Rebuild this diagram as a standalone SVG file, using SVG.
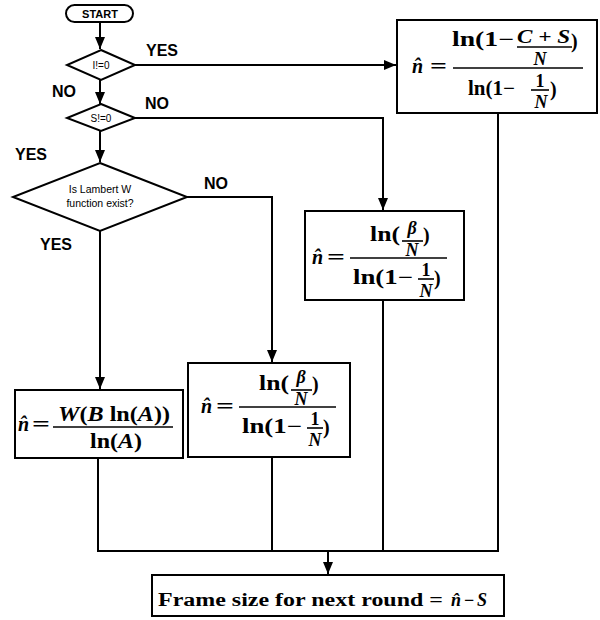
<svg xmlns="http://www.w3.org/2000/svg" width="600" height="620" viewBox="0 0 600 620">
<style>
.sh{fill:#fff;stroke:#000;stroke-width:2}
.ln{fill:none;stroke:#000;stroke-width:2}
.lbl{font-family:"Liberation Sans",Arial,sans-serif;font-weight:bold;font-size:16px;fill:#000}
.dt{font-family:"Liberation Sans",Arial,sans-serif;font-size:10px;fill:#000;text-anchor:middle}
.m{font-family:"Liberation Serif","Times New Roman",serif;font-weight:bold;font-size:20px;fill:#000}
.s{font-size:18px}
.i{font-style:italic}
.c{text-anchor:middle}
.bar{stroke:#000;stroke-width:1.6}
</style>
<defs>
<marker id="ah" viewBox="0 0 12 10" refX="12" refY="5" markerWidth="6" markerHeight="5" orient="auto" markerUnits="strokeWidth">
<path d="M0,0 L12,5 L0,10 z" fill="#000"/>
</marker>
</defs>
<g id="connectors">
<line class="ln" x1="100" y1="22" x2="100" y2="49" marker-end="url(#ah)"/>
<line class="ln" x1="135" y1="65" x2="396" y2="65" marker-end="url(#ah)"/>
<line class="ln" x1="100" y1="80" x2="100" y2="104" marker-end="url(#ah)"/>
<polyline class="ln" points="135,118 383,118 383,210" marker-end="url(#ah)"/>
<line class="ln" x1="100" y1="131" x2="100" y2="162" marker-end="url(#ah)"/>
<polyline class="ln" points="187,197 272,197 272,362" marker-end="url(#ah)"/>
<line class="ln" x1="100" y1="231" x2="100" y2="389" marker-end="url(#ah)"/>
<line class="ln" x1="98" y1="458" x2="98" y2="551"/>
<line class="ln" x1="272" y1="457" x2="272" y2="551"/>
<line class="ln" x1="383" y1="300" x2="383" y2="551"/>
<line class="ln" x1="498" y1="113" x2="498" y2="551"/>
<line class="ln" x1="97" y1="551" x2="499" y2="551"/>
<line class="ln" x1="328" y1="551" x2="328" y2="574" marker-end="url(#ah)"/>
<text class="lbl" x="146" y="56">YES</text>
<text class="lbl" x="52" y="97">NO</text>
<text class="lbl" x="145" y="109">NO</text>
<text class="lbl" x="15" y="160">YES</text>
<text class="lbl" x="204" y="189">NO</text>
<text class="lbl" x="40" y="250">YES</text>
</g>
<g id="start">
<rect class="sh" x="66" y="5" width="67" height="17" rx="8.5"/>
<text class="dt" x="100" y="17.5" style="font-weight:bold;font-size:11px">START</text>
</g>
<g id="d1">
<polygon class="sh" points="101,50 135,65 101,80 67,65"/>
<text class="dt" x="101" y="69">I!=0</text>
</g>
<g id="d2">
<polygon class="sh" points="101,104 135,118 101,131 67,118"/>
<text class="dt" x="101" y="122">S!=0</text>
</g>
<g id="d3">
<polygon class="sh" points="100,163 187,197 100,231 13,197"/>
<text class="dt" x="100" y="193" style="font-size:10.5px">Is Lambert W</text>
<text class="dt" x="100" y="207" style="font-size:10.5px">function exist?</text>
</g>
<g id="box1">
<rect class="sh" x="397" y="20" width="200" height="93"/>
<text class="m i" x="412" y="73">n̂</text>
<text class="m" x="430" y="73" textLength="17" lengthAdjust="spacingAndGlyphs">=</text>
<line class="bar" x1="453" y1="68" x2="583" y2="68"/>
<text class="m" x="452" y="46" textLength="62" lengthAdjust="spacingAndGlyphs">ln(1−</text>
<text class="m s i" x="517" y="43" textLength="53" lengthAdjust="spacingAndGlyphs">C + S</text>
<line class="bar" x1="517" y1="47" x2="572" y2="47"/>
<text class="m s i c" x="540" y="65">N</text>
<text class="m" x="571" y="48">)</text>
<text class="m" x="468" y="95" textLength="47" lengthAdjust="spacingAndGlyphs">ln(1−</text>
<text class="m s c" x="540" y="87">1</text>
<line class="bar" x1="531" y1="90" x2="549" y2="90"/>
<text class="m s i c" x="541" y="108">N</text>
<text class="m" x="550" y="96">)</text>
</g>
<g id="box3">
<rect class="sh" x="305" y="211" width="159" height="89"/>
<g id="f3">
<text class="m i" x="312" y="264">n̂</text>
<text class="m" x="327" y="264" textLength="18" lengthAdjust="spacingAndGlyphs">=</text>
<line class="bar" x1="350" y1="258" x2="447" y2="258"/>
<text class="m" x="370" y="241" textLength="30" lengthAdjust="spacingAndGlyphs">ln(</text>
<text class="m s i c" x="412" y="234">β</text>
<line class="bar" x1="402" y1="241" x2="423" y2="241"/>
<text class="m s i c" x="412" y="256">N</text>
<text class="m" x="423" y="242">)</text>
<text class="m" x="353" y="284" textLength="60" lengthAdjust="spacingAndGlyphs">ln(1−</text>
<text class="m s c" x="426" y="276">1</text>
<line class="bar" x1="418" y1="279" x2="434" y2="279"/>
<text class="m s i c" x="426" y="297">N</text>
<text class="m" x="434" y="285">)</text>
</g>
</g>
<g id="box4">
<rect class="sh" x="188" y="363" width="162" height="94"/>
<g transform="translate(-111,149)">
<text class="m i" x="312" y="264">n̂</text>
<text class="m" x="327" y="264" textLength="18" lengthAdjust="spacingAndGlyphs">=</text>
<line class="bar" x1="350" y1="258" x2="447" y2="258"/>
<text class="m" x="370" y="241" textLength="30" lengthAdjust="spacingAndGlyphs">ln(</text>
<text class="m s i c" x="412" y="234">β</text>
<line class="bar" x1="402" y1="241" x2="423" y2="241"/>
<text class="m s i c" x="412" y="256">N</text>
<text class="m" x="423" y="242">)</text>
<text class="m" x="353" y="284" textLength="60" lengthAdjust="spacingAndGlyphs">ln(1−</text>
<text class="m s c" x="426" y="276">1</text>
<line class="bar" x1="418" y1="279" x2="434" y2="279"/>
<text class="m s i c" x="426" y="297">N</text>
<text class="m" x="434" y="285">)</text>
</g>
</g>
<g id="box5">
<rect class="sh" x="15" y="390" width="168" height="68"/>
<text class="m i" x="18" y="431">n̂</text>
<text class="m" x="32" y="431" textLength="18" lengthAdjust="spacingAndGlyphs">=</text>
<line class="bar" x1="53" y1="427" x2="173" y2="427"/>
<text class="m" x="58" y="421" textLength="112" lengthAdjust="spacingAndGlyphs"><tspan class="i">W</tspan>(<tspan class="i">B</tspan> ln(<tspan class="i">A</tspan>))</text>
<text class="m" x="90" y="448" textLength="52" lengthAdjust="spacingAndGlyphs">ln(<tspan class="i">A</tspan>)</text>
</g>
<g id="final">
<rect class="sh" x="152" y="575" width="352" height="41"/>
<text class="m" x="158" y="606" style="font-size:18px" textLength="285" lengthAdjust="spacingAndGlyphs">Frame size for next round =</text>
<text class="m i" x="451" y="606" style="font-size:18px">n̂</text>
<text class="m" x="464" y="606" style="font-size:18px">−</text>
<text class="m i" x="477" y="606" style="font-size:18px">S</text>
</g>
</svg>
